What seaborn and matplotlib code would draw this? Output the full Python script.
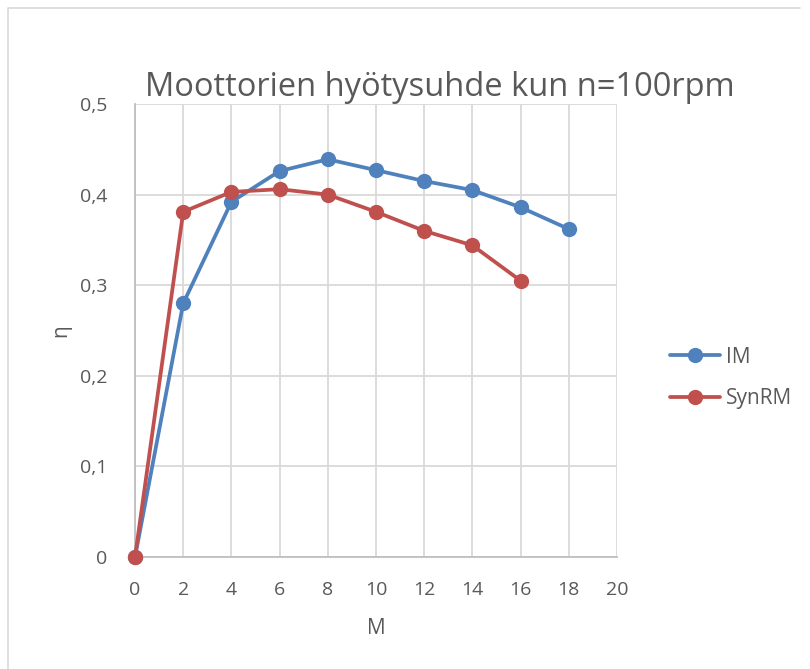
import matplotlib
matplotlib.use("Agg")
import matplotlib.pyplot as plt
import matplotlib.ticker as mticker
from matplotlib.lines import Line2D
import seaborn as sns
import pandas as pd

# Torque M and efficiency for each motor type
torque_im = [0, 2, 4, 6, 8, 10, 12, 14, 16, 18]
eff_im = [0, 0.280, 0.392, 0.426, 0.439, 0.427, 0.415, 0.405, 0.386, 0.362]
torque_syn = [0, 2, 4, 6, 8, 10, 12, 14, 16]
eff_syn = [0, 0.381, 0.403, 0.406, 0.400, 0.381, 0.360, 0.344, 0.305]
series_names = ["IM", "SynRM"]
x_ticks = list(range(0, 21, 2))
y_ticks = [0, 0.1, 0.2, 0.3, 0.4, 0.5]

df = pd.concat([
    pd.DataFrame({"M": torque_im, "eta": eff_im, "motor": series_names[0]}),
    pd.DataFrame({"M": torque_syn, "eta": eff_syn, "motor": series_names[1]}),
])

sns.set_theme(style="white")
plt.rcParams["font.family"] = ["Open Sans", "DejaVu Sans"]
text_color = "#595959"
grid_color = "#D9D9D9"
palette = {"IM": "#4F81BD", "SynRM": "#C0504D"}

fig = plt.figure(figsize=(8.1, 6.69), dpi=100)
# chart-area frame (top and left edges)
fig.lines.append(Line2D([0.010, 0.010, 0.988], [0.0, 0.988, 0.988], transform=fig.transFigure,
                        color="#D9D9D9", linewidth=1.2))
ax = fig.add_axes([0.1667, 0.1674, 0.595, 0.6771])

sns.lineplot(data=df, x="M", y="eta", hue="motor", palette=palette, marker="o",
             markersize=11, linewidth=2.7, markeredgewidth=0, ax=ax,
             sort=False, legend=True, zorder=3, clip_on=False)

ax.set_xlim(0, 20)
ax.set_ylim(0, 0.5)
ax.set_xticks(x_ticks)
ax.set_yticks(y_ticks)
ax.yaxis.set_major_formatter(mticker.FuncFormatter(
    lambda v, _: "0" if v == 0 else f"{v:.1f}".replace(".", ",")))
ax.grid(True, color=grid_color, linewidth=1.3)
for side in ["top", "right"]:
    ax.spines[side].set_visible(False)
for side in ["left", "bottom"]:
    ax.spines[side].set_color("#BFBFBF")
    ax.spines[side].set_linewidth(1.3)
ax.tick_params(axis="both", length=0, labelsize=14, colors=text_color)
ax.tick_params(axis="y", pad=20)
ax.tick_params(axis="x", pad=17)
for lbl in ax.get_xticklabels() + ax.get_yticklabels():
    lbl.set_color(text_color)

ax.set_xlabel("M", fontsize=15, color=text_color, labelpad=14)
ax.set_ylabel("η", fontsize=15, color=text_color, labelpad=6)
ax.set_title("Moottorien hyötysuhde kun n=100rpm", fontsize=23.5, color=text_color, pad=6)
ax.title.set_position((0.633, 1.0))

leg = ax.legend(loc="center left", bbox_to_anchor=(1.11, 0.395), frameon=False,
                fontsize=15, labelcolor=text_color, handlelength=2.4,
                labelspacing=1.0, handletextpad=0.3, borderaxespad=0, borderpad=0)
for h in leg.legend_handles:
    h.set_linewidth(2.7)

fig.savefig("out.png", dpi=100)
